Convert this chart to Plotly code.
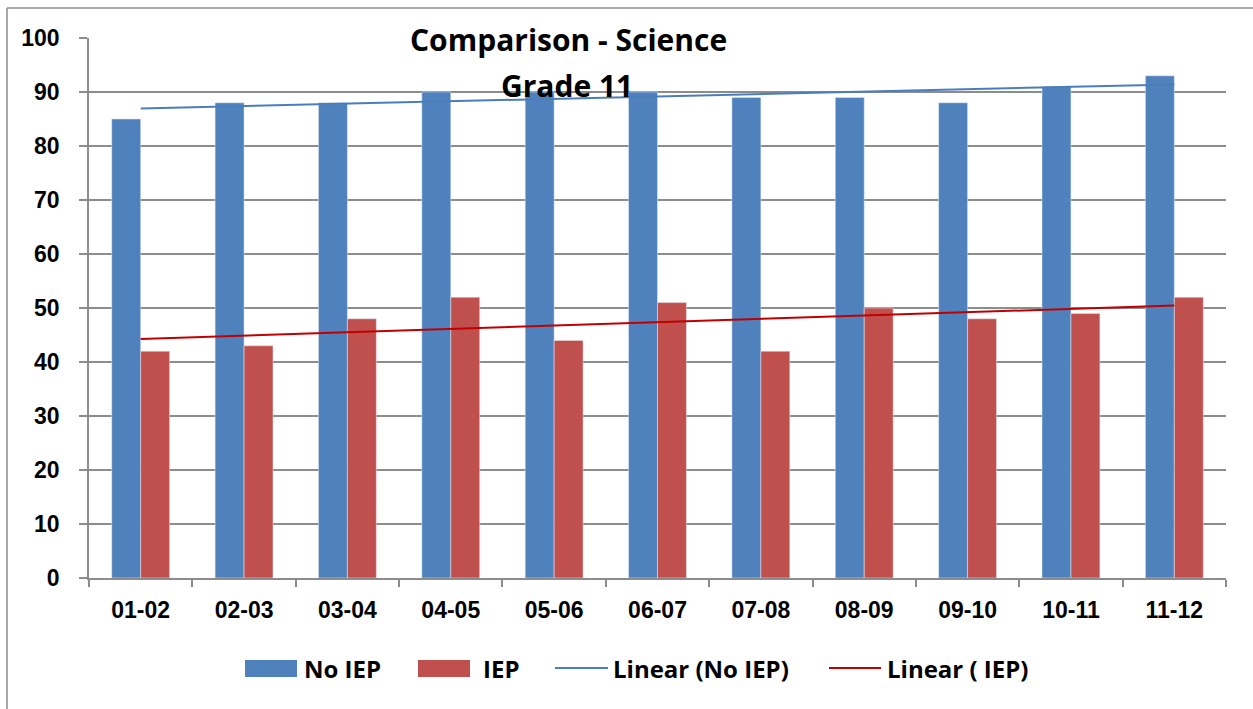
import numpy as np
import plotly.graph_objects as go

categories = ["01-02", "02-03", "03-04", "04-05", "05-06", "06-07",
              "07-08", "08-09", "09-10", "10-11", "11-12"]
no_iep = [85, 88, 88, 90, 90, 90, 89, 89, 88, 91, 93]
iep = [42, 43, 48, 52, 44, 51, 42, 50, 48, 49, 52]
y_ticks = [0, 10, 20, 30, 40, 50, 60, 70, 80, 90, 100]

BLUE = "#4F81BD"
RED = "#C0504D"
TREND_BLUE = "#4A7EBB"
TREND_RED = "#C00000"
GRID = "#8C8C8C"

W, H = 1253, 709
L, R, T, B = 89, 27, 38, 131
PW, PH = W - L - R, H - T - B


def px(x):
    return (x - L) / PW


def py(y):
    return (H - B - y) / PH


def trend(vals):
    xs = np.arange(len(vals))
    m, c = np.polyfit(xs, vals, 1)
    return list(m * xs + c)


fig = go.Figure()
fig.add_trace(go.Bar(x=categories, y=no_iep, name="No IEP", marker_color=BLUE))
fig.add_trace(go.Bar(x=categories, y=iep, name="IEP", marker_color=RED))
fig.add_trace(go.Scatter(x=categories, y=trend(no_iep), mode="lines",
                         name="Linear (No IEP)",
                         line=dict(color=TREND_BLUE, width=2)))
fig.add_trace(go.Scatter(x=categories, y=trend(iep), mode="lines",
                         name="Linear ( IEP)",
                         line=dict(color=TREND_RED, width=2)))

title_font = dict(family="Open Sans, Liberation Sans, sans-serif", size=30,
                  color="black", weight="bold")
legend_font = dict(family="Open Sans, Liberation Sans, sans-serif", size=24,
                   color="black", weight="bold")

annotations = [
    dict(text="Comparison - Science", x=px(568), y=py(40), xref="paper",
         yref="paper", xanchor="center", yanchor="middle", showarrow=False,
         font=title_font),
    dict(text="Grade 11", x=px(567), y=py(85), xref="paper", yref="paper",
         xanchor="center", yanchor="middle", showarrow=False, font=title_font),
]

shapes = [
    # outer chart border (top and left visible)
    dict(type="line", xref="paper", yref="paper", x0=px(7), x1=px(1270),
         y0=py(8), y1=py(8), line=dict(color=GRID, width=1.5)),
    dict(type="line", xref="paper", yref="paper", x0=px(7), x1=px(7),
         y0=py(8), y1=py(730), line=dict(color=GRID, width=1.5)),
]

# manual legend
leg_y = 668
legend_items = [
    ("box", BLUE, 245, 297, "No IEP", 302),
    ("box", RED, 418, 470, "IEP", 481),
    ("line", TREND_BLUE, 555, 608, "Linear (No IEP)", 611),
    ("line", TREND_RED, 829, 881, "Linear ( IEP)", 885),
]
for kind, col, x0, x1, label, tx in legend_items:
    if kind == "box":
        shapes.append(dict(type="rect", xref="paper", yref="paper",
                           x0=px(x0), x1=px(x1), y0=py(677), y1=py(660),
                           fillcolor=col, line=dict(width=0)))
    else:
        shapes.append(dict(type="line", xref="paper", yref="paper",
                           x0=px(x0), x1=px(x1), y0=py(leg_y), y1=py(leg_y),
                           line=dict(color=col, width=2)))
    annotations.append(dict(text=label, x=px(tx), y=py(leg_y), xref="paper",
                            yref="paper", xanchor="left", yanchor="middle",
                            showarrow=False, font=legend_font))

fig.update_layout(
    width=W, height=H,
    margin=dict(l=L, r=R, t=T, b=B, pad=0),
    paper_bgcolor="white", plot_bgcolor="white",
    barmode="group", bargap=0.44, bargroupgap=0,
    showlegend=False,
    annotations=annotations,
    shapes=shapes,
)
fig.update_xaxes(
    type="category", showline=True, linecolor=GRID, linewidth=1.5,
    ticks="outside", tickson="boundaries", ticklen=7, tickcolor=GRID,
    tickwidth=1.5, showgrid=False,
    tickfont=dict(family="Liberation Sans, Arial, sans-serif",
                  size=23, color="black", weight="bold"),
    ticklabelstandoff=11,
)
fig.update_yaxes(
    range=[0, 100], tickvals=y_ticks, showline=True, linecolor=GRID,
    linewidth=1.5, ticks="outside", ticklen=8, tickcolor=GRID, tickwidth=1.5,
    showgrid=True, gridcolor=GRID, gridwidth=1.5, zeroline=False,
    tickfont=dict(family="Liberation Sans, Arial, sans-serif", size=23,
                  color="black", weight="bold"),
    ticklabelstandoff=15,
)

fig.write_html("out.html")
